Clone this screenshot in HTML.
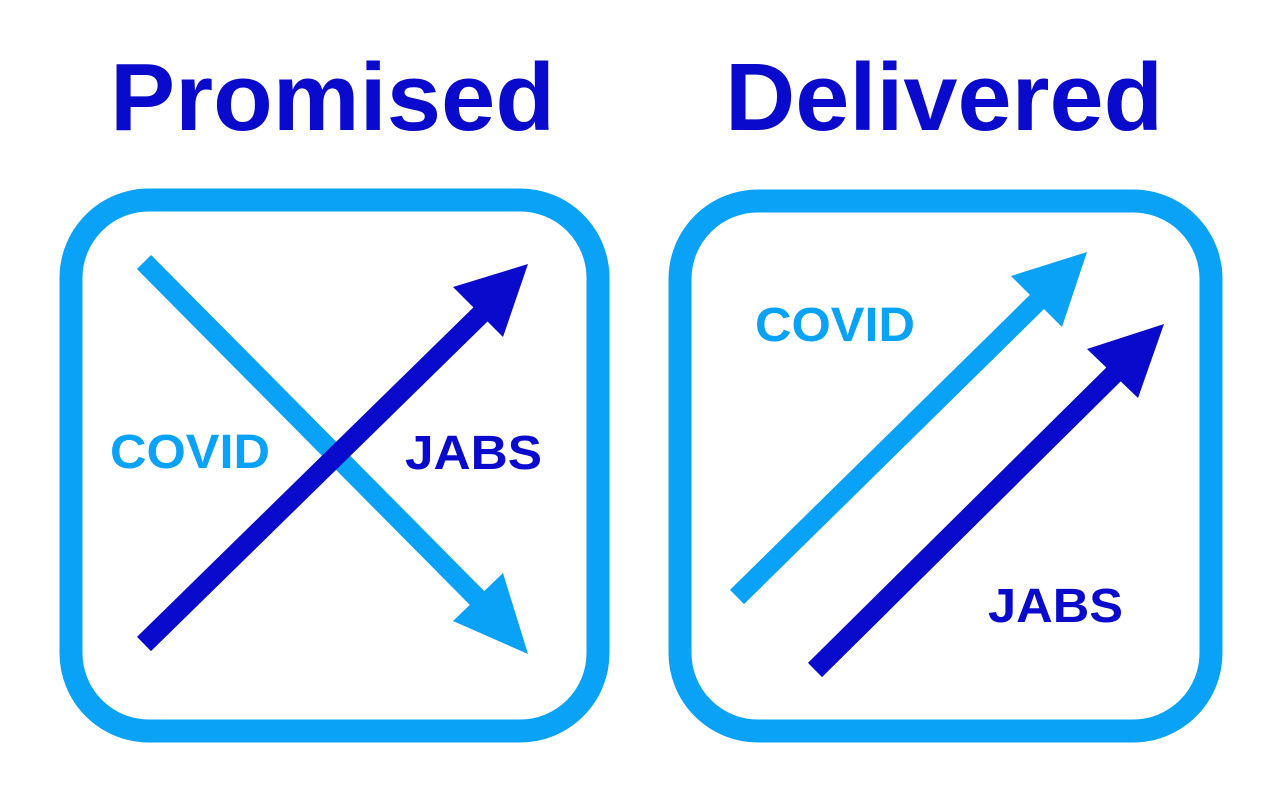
<!DOCTYPE html>
<html><head><meta charset="utf-8"><style>html,body{margin:0;padding:0;background:#fff}svg{display:block}</style></head>
<body>
<svg width="1280" height="801" viewBox="0 0 1280 801" xmlns="http://www.w3.org/2000/svg">
<rect width="1280" height="801" fill="#fff"/>
<g font-family="Liberation Sans, Arial, sans-serif" font-weight="bold">
<text x="110" y="130" font-size="96" fill="#0a0acc" textLength="445" lengthAdjust="spacingAndGlyphs">Promised</text>
<text x="725" y="130" font-size="96" fill="#0a0acc" textLength="438" lengthAdjust="spacingAndGlyphs">Delivered</text>
</g>
<rect x="71" y="200" width="527" height="531" rx="78" fill="none" stroke="#0aa2f7" stroke-width="23"/>
<rect x="680" y="201" width="531" height="530" rx="78" fill="none" stroke="#0aa2f7" stroke-width="23"/>
<!-- left COVID down arrow -->
<line x1="144" y1="262" x2="485" y2="606" stroke="#0aa2f7" stroke-width="20"/>
<polygon points="528,654 453,621 503,573" fill="#0aa2f7"/>
<!-- left JABS up arrow -->
<line x1="144" y1="644" x2="485" y2="310" stroke="#0a0acc" stroke-width="20"/>
<polygon points="528,264 453,287 503,337" fill="#0a0acc"/>
<!-- right COVID -->
<line x1="737" y1="597" x2="1042" y2="297" stroke="#0aa2f7" stroke-width="20"/>
<polygon points="1087,252 1011,276 1062,327" fill="#0aa2f7"/>
<!-- right JABS -->
<line x1="815" y1="670" x2="1118" y2="370" stroke="#0a0acc" stroke-width="20"/>
<polygon points="1164,324 1087,349 1138,398" fill="#0a0acc"/>
<g font-family="Liberation Sans, Arial, sans-serif" font-weight="bold" font-size="48">
<text x="110" y="468" fill="#0aa2f7" textLength="160" lengthAdjust="spacingAndGlyphs">COVID</text>
<text x="405" y="469" fill="#0a0acc" textLength="137" lengthAdjust="spacingAndGlyphs">JABS</text>
<text x="755" y="341" fill="#0aa2f7" textLength="160" lengthAdjust="spacingAndGlyphs">COVID</text>
<text x="988" y="622" fill="#0a0acc" textLength="135" lengthAdjust="spacingAndGlyphs">JABS</text>
</g>
</svg>
</body></html>
